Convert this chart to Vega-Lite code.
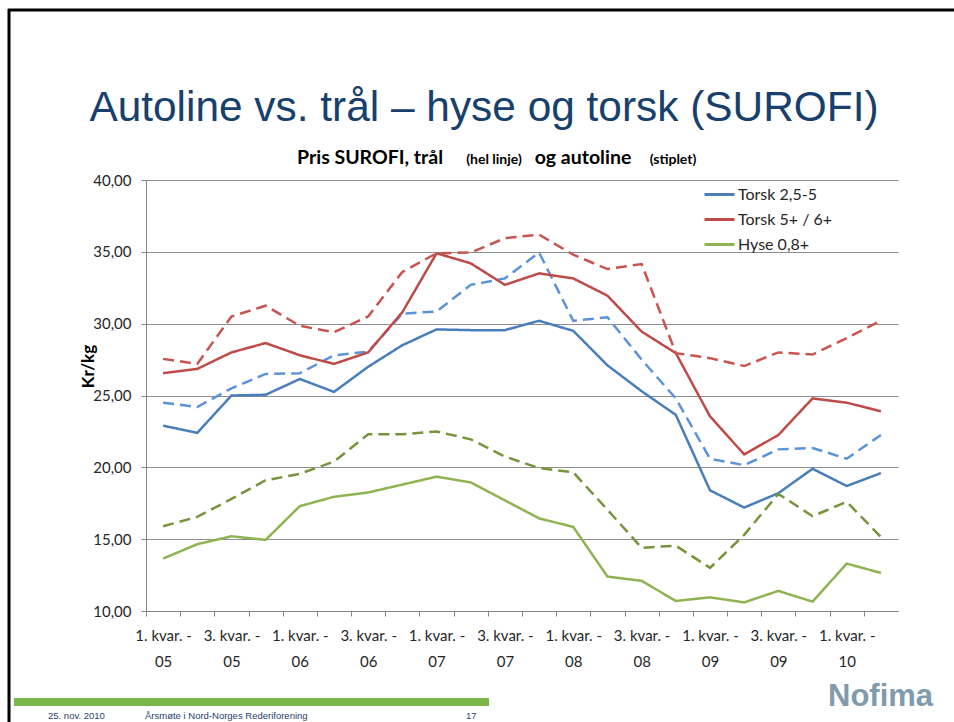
{
  "$schema": "https://vega.github.io/schema/vega-lite/v6.json",
  "width": 752,
  "height": 431,
  "autosize": {"type": "none"},
  "padding": {"left": 146, "top": 180, "right": 56, "bottom": 111},
  "background": "#ffffff",
  "config": {"view": {"stroke": null}},
  "datasets": {
    "prices": [
      {"q": "1. kvar. - 05", "T25": 22.9, "T25a": 24.5, "T5": 26.55, "T5a": 27.55, "H": 13.65, "Ha": 15.9},
      {"q": "2. kvar. - 05", "T25": 22.4, "T25a": 24.2, "T5": 26.85, "T5a": 27.2, "H": 14.65, "Ha": 16.55},
      {"q": "3. kvar. - 05", "T25": 25.0, "T25a": 25.5, "T5": 28.0, "T5a": 30.5, "H": 15.2, "Ha": 17.8},
      {"q": "4. kvar. - 05", "T25": 25.05, "T25a": 26.5, "T5": 28.65, "T5a": 31.25, "H": 14.95, "Ha": 19.1},
      {"q": "1. kvar. - 06", "T25": 26.15, "T25a": 26.55, "T5": 27.8, "T5a": 29.85, "H": 17.3, "Ha": 19.55},
      {"q": "2. kvar. - 06", "T25": 25.25, "T25a": 27.8, "T5": 27.2, "T5a": 29.4, "H": 17.95, "Ha": 20.4},
      {"q": "3. kvar. - 06", "T25": 27.0, "T25a": 28.05, "T5": 28.0, "T5a": 30.5, "H": 18.25, "Ha": 22.3},
      {"q": "4. kvar. - 06", "T25": 28.5, "T25a": 30.7, "T5": 30.8, "T5a": 33.6, "H": 18.8, "Ha": 22.3},
      {"q": "1. kvar. - 07", "T25": 29.6, "T25a": 30.85, "T5": 34.9, "T5a": 34.9, "H": 19.35, "Ha": 22.5},
      {"q": "2. kvar. - 07", "T25": 29.55, "T25a": 32.7, "T5": 34.2, "T5a": 34.95, "H": 18.95, "Ha": 21.95},
      {"q": "3. kvar. - 07", "T25": 29.55, "T25a": 33.15, "T5": 32.7, "T5a": 35.95, "H": 17.7, "Ha": 20.75},
      {"q": "4. kvar. - 07", "T25": 30.2, "T25a": 34.95, "T5": 33.5, "T5a": 36.2, "H": 16.45, "Ha": 19.95},
      {"q": "1. kvar. - 08", "T25": 29.5, "T25a": 30.2, "T5": 33.15, "T5a": 34.8, "H": 15.85, "Ha": 19.65},
      {"q": "2. kvar. - 08", "T25": 27.1, "T25a": 30.45, "T5": 31.95, "T5a": 33.8, "H": 12.4, "Ha": 17.05},
      {"q": "3. kvar. - 08", "T25": 25.3, "T25a": 27.5, "T5": 29.45, "T5a": 34.15, "H": 12.1, "Ha": 14.4},
      {"q": "4. kvar. - 08", "T25": 23.65, "T25a": 24.8, "T5": 27.95, "T5a": 27.95, "H": 10.7, "Ha": 14.55},
      {"q": "1. kvar. - 09", "T25": 18.4, "T25a": 20.6, "T5": 23.55, "T5a": 27.6, "H": 10.95, "Ha": 13.0},
      {"q": "2. kvar. - 09", "T25": 17.2, "T25a": 20.15, "T5": 20.9, "T5a": 27.05, "H": 10.6, "Ha": 15.3},
      {"q": "3. kvar. - 09", "T25": 18.2, "T25a": 21.25, "T5": 22.25, "T5a": 28.0, "H": 11.4, "Ha": 18.15},
      {"q": "4. kvar. - 09", "T25": 19.9, "T25a": 21.35, "T5": 24.8, "T5a": 27.85, "H": 10.65, "Ha": 16.6},
      {"q": "1. kvar. - 10", "T25": 18.7, "T25a": 20.6, "T5": 24.5, "T5a": 29.0, "H": 13.3, "Ha": 17.6},
      {"q": "2. kvar. - 10", "T25": 19.6, "T25a": 22.25, "T5": 23.9, "T5a": 30.2, "H": 12.65, "Ha": 15.15}
    ],
    "series": [
      {"key": "T25", "kind": "trål"},
      {"key": "T5", "kind": "trål"},
      {"key": "H", "kind": "trål"},
      {"key": "T25a", "kind": "autoline"},
      {"key": "T5a", "kind": "autoline"},
      {"key": "Ha", "kind": "autoline"}
    ],
    "one": [{}]
  },
  "layer": [
    {
      "data": {"name": "prices"},
      "transform": [
        {"fold": ["T25", "T25a", "T5", "T5a", "H", "Ha"], "as": ["key", "value"]},
        {"lookup": "key", "from": {"data": {"name": "series"}, "key": "key", "fields": ["kind"]}}
      ],
      "mark": {"type": "line", "strokeWidth": 2.5, "clip": false},
      "encoding": {
        "x": {
          "field": "q", "type": "ordinal", "sort": null,
          "scale": {"type": "point", "padding": 0.5},
          "axis": {
            "title": null, "grid": false, "labelAngle": 0, "orient": "bottom",
            "domainColor": "#868686", "tickColor": "#868686", "tickSize": 5, "tickOffset": -17.1, "labelOffset": 17.1,
            "labelFont": "Lato", "labelFontSize": 15, "labelColor": "#262626",
            "labelLineHeight": 26, "labelPadding": 12, "labelOverlap": false, "labelBound": false,
            "labelExpr": "(indexof(datum.value, '1.') == 0 || indexof(datum.value, '3.') == 0) ? [slice(datum.value, 0, 10), slice(datum.value, 11)] : ''"
          }
        },
        "y": {
          "field": "value", "type": "quantitative",
          "scale": {"domain": [10, 40], "nice": false, "zero": false},
          "axis": {
            "values": [10, 15, 20, 25, 30, 35, 40],
            "labelExpr": "replace(format(datum.value, '.2f'), '.', ',')",
            "grid": true, "gridColor": "#8E8E8E", "gridWidth": 1,
            "domainColor": "#868686", "tickColor": "#868686", "tickSize": 5,
            "labelFont": "Lato", "labelFontSize": 15, "labelColor": "#262626", "labelPadding": 10,
            "title": "Kr/kg", "titleFont": "Lato", "titleFontSize": 17, "titleFontWeight": "bold",
            "titleColor": "#000000", "titleAngle": 270, "titleX": -58, "titleY": 186,
            "titleAlign": "center", "titleBaseline": "middle"
          }
        },
        "color": {
          "field": "key", "type": "nominal",
          "scale": {
            "domain": ["T25", "T5", "H", "T25a", "T5a", "Ha"],
            "range": ["#4A7EBB", "#BE4B48", "#8DB451", "#5B93DB", "#C85450", "#77933C"]
          },
          "legend": {
            "title": null, "orient": "none", "legendX": 557, "legendY": -2,
            "values": ["T25", "T5", "H"],
            "labelExpr": "datum.value == 'T25' ? 'Torsk 2,5-5' : datum.value == 'T5' ? 'Torsk 5+ / 6+' : 'Hyse 0,8+'",
            "symbolType": "stroke", "symbolSize": 900, "symbolStrokeWidth": 3,
            "rowPadding": 0, "padding": 0, "labelOffset": 2,
            "labelFont": "Lato", "labelFontSize": 16, "labelColor": "#262626"
          }
        },
        "strokeDash": {
          "field": "kind", "type": "nominal",
          "scale": {"domain": ["trål", "autoline"], "range": [[1, 0], [11, 6]]},
          "legend": null
        }
      }
    },
    {
      "data": {"name": "one"},
      "mark": {"type": "text", "text": "Autoline vs. trål – hyse og torsk (SUROFI)", "font": "Liberation Sans", "fontSize": 42.4, "color": "#17406D", "align": "center", "baseline": "alphabetic"},
      "encoding": {"x": {"value": 338}, "y": {"value": -59}}
    },
    {
      "data": {"name": "one"},
      "mark": {"type": "text", "text": "Pris SUROFI,  trål", "font": "Lato", "fontWeight": "bold", "fontSize": 19.5, "color": "#000000", "align": "center", "baseline": "alphabetic"},
      "encoding": {"x": {"value": 224}, "y": {"value": -16}}
    },
    {
      "data": {"name": "one"},
      "mark": {"type": "text", "text": "(hel linje)", "font": "Lato", "fontWeight": "bold", "fontSize": 14, "color": "#000000", "align": "center", "baseline": "alphabetic"},
      "encoding": {"x": {"value": 348}, "y": {"value": -16}}
    },
    {
      "data": {"name": "one"},
      "mark": {"type": "text", "text": "og autoline", "font": "Lato", "fontWeight": "bold", "fontSize": 19.5, "color": "#000000", "align": "center", "baseline": "alphabetic"},
      "encoding": {"x": {"value": 437}, "y": {"value": -16}}
    },
    {
      "data": {"name": "one"},
      "mark": {"type": "text", "text": "(stiplet)", "font": "Lato", "fontWeight": "bold", "fontSize": 14, "color": "#000000", "align": "center", "baseline": "alphabetic"},
      "encoding": {"x": {"value": 527}, "y": {"value": -16}}
    },
    {
      "data": {"name": "one"},
      "mark": {"type": "rule", "color": "#000000", "strokeWidth": 3, "clip": false},
      "encoding": {"x": {"value": -138}, "x2": {"value": 808}, "y": {"value": -170}, "y2": {"value": -170}}
    },
    {
      "data": {"name": "one"},
      "mark": {"type": "rule", "color": "#000000", "strokeWidth": 3, "clip": false},
      "encoding": {"x": {"value": -137}, "x2": {"value": -137}, "y": {"value": -171}, "y2": {"value": 542}}
    },
    {
      "data": {"name": "one"},
      "mark": {"type": "rule", "color": "#7AB648", "strokeWidth": 8, "clip": false},
      "encoding": {"x": {"value": -132}, "x2": {"value": 343}, "y": {"value": 522}, "y2": {"value": 522}}
    },
    {
      "data": {"name": "one"},
      "mark": {"type": "text", "text": "25. nov. 2010", "font": "Liberation Sans", "fontSize": 9.5, "color": "#1F3F6E", "align": "left", "baseline": "alphabetic"},
      "encoding": {"x": {"value": -98}, "y": {"value": 539}}
    },
    {
      "data": {"name": "one"},
      "mark": {"type": "text", "text": "Årsmøte i Nord-Norges Rederiforening", "font": "Liberation Sans", "fontSize": 9.5, "color": "#1F3F6E", "align": "left", "baseline": "alphabetic"},
      "encoding": {"x": {"value": -1}, "y": {"value": 539}}
    },
    {
      "data": {"name": "one"},
      "mark": {"type": "text", "text": "17", "font": "Liberation Sans", "fontSize": 9.5, "color": "#1F3F6E", "align": "left", "baseline": "alphabetic"},
      "encoding": {"x": {"value": 320}, "y": {"value": 539}}
    },
    {
      "data": {"name": "one"},
      "mark": {"type": "text", "text": "Nofima", "font": "Liberation Sans", "fontWeight": "bold", "fontSize": 31, "color": "#7F9BAD", "align": "left", "baseline": "alphabetic"},
      "encoding": {"x": {"value": 682}, "y": {"value": 526}}
    }
  ]
}
